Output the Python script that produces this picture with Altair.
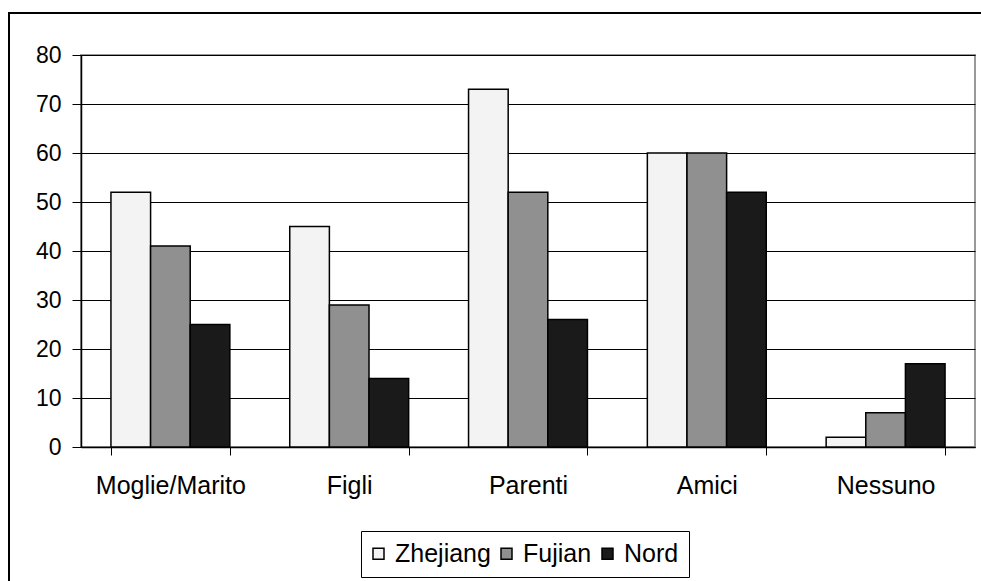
import altair as alt
import pandas as pd

# Chi ti aiuta? — risposte per gruppo di provenienza
categorie = ["Moglie/Marito", "Figli", "Parenti", "Amici", "Nessuno"]
gruppi = ["Zhejiang", "Fujian", "Nord"]
zhejiang = [52, 45, 73, 60, 2]
fujian = [41, 29, 52, 60, 7]
nord = [25, 14, 26, 52, 17]

righe = []
for serie, valori in zip(gruppi, [zhejiang, fujian, nord]):
    for cat, v in zip(categorie, valori):
        righe.append({"categoria": cat, "gruppo": serie, "valore": v})
df = pd.DataFrame(righe)

FONT = "Liberation Sans"
W, H = 894, 392
LEFT, TOP = 81, 55

bars = alt.Chart(df).mark_bar(stroke="black", strokeWidth=1.5).encode(
    x=alt.X(
        "categoria:N",
        sort=categorie,
        title=None,
        scale=alt.Scale(paddingInner=0.335, paddingOuter=0.1675),
        axis=alt.Axis(
            labelAngle=0,
            labelFontSize=25,
            labelFont=FONT,
            labelColor="black",
            labelPadding=18,
            tickBand="extent",
            tickSize=8,
            tickColor="black",
            domainColor="black",
            domainWidth=1.5,
            grid=False,
        ),
    ),
    xOffset=alt.XOffset("gruppo:N", sort=gruppi),
    y=alt.Y(
        "valore:Q",
        title=None,
        scale=alt.Scale(domain=[0, 80], nice=False),
        axis=alt.Axis(
            values=list(range(0, 81, 10)),
            labelFontSize=23,
            labelFont=FONT,
            labelColor="black",
            labelPadding=11,
            tickSize=9,
            tickColor="black",
            domainColor="black",
            domainWidth=1.5,
            gridColor="black",
            gridWidth=1,
        ),
    ),
    fill=alt.Fill(
        "gruppo:N",
        sort=gruppi,
        scale=alt.Scale(domain=gruppi, range=["#f3f3f3", "#909090", "#1a1a1a"]),
        legend=alt.Legend(
            title=None,
            orient="none",
            legendX=280,
            legendY=476,
            direction="horizontal",
            symbolType="square",
            symbolSize=121,
            symbolOffset=-5,
            symbolStrokeColor="black",
            symbolStrokeWidth=1.5,
            labelFontSize=25,
            labelFont=FONT,
            labelColor="black",
            labelOffset=4,
            columnPadding=7,
            strokeColor="black",
            padding=10,
        ),
    ),
)

# cornice esterna del grafico
cornice = alt.Chart(pd.DataFrame({"k": [0]})).mark_rect(
    fill=None, stroke="black", strokeWidth=2
).encode(
    x=alt.value(-72), x2=alt.value(W + 100),
    y=alt.value(-42), y2=alt.value(H + 160),
)

chart = alt.layer(cornice, bars).properties(
    width=W,
    height=H,
    padding={"left": LEFT, "top": TOP, "right": 981 - LEFT - W, "bottom": 581 - TOP - H},
    autosize=alt.AutoSizeParams(type="none"),
    background="white",
).configure_view(
    stroke="#999999", strokeWidth=2
)

chart.save("out.html", embed_options={"renderer": "svg", "actions": False})
